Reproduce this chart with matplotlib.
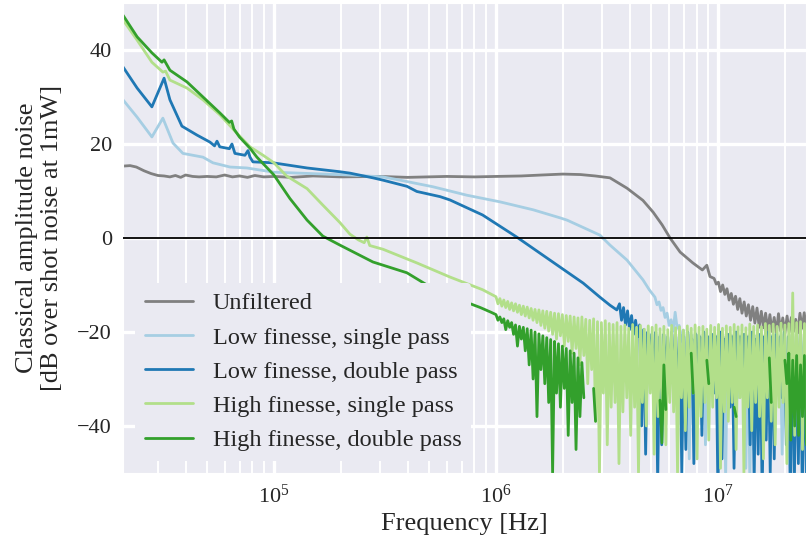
import numpy as np
import matplotlib
matplotlib.use("Agg")
import matplotlib.pyplot as plt
import seaborn as sns

labels = ["Unfiltered", "Low finesse, single pass", "Low finesse, double pass",
          "High finesse, single pass", "High finesse, double pass"]
colors = ["#808080", "#a6cee3", "#1f78b4", "#b2df8a", "#33a02c"]

# --- Unfiltered ---
unf_freq = [2.09e4, 2.25e4, 2.4e4, 2.6e4, 2.8e4, 3.0e4, 3.2e4, 3.4e4, 3.6e4, 3.8e4,
            4.0e4, 4.3e4, 4.6e4, 5.0e4, 5.5e4, 6.0e4, 6.5e4, 7.0e4, 7.6e4, 8.2e4,
            9.0e4, 1.0e5, 1.2e5, 1.5e5, 2.0e5, 3.0e5, 4.0e5, 6.0e5, 8.0e5, 1.0e6,
            1.3e6, 1.6e6, 2.0e6, 2.4e6, 2.8e6, 3.26e6, 3.89e6, 4.59e6, 5.1e6, 5.6e6,
            6.08e6, 6.75e6, 7.7e6, 8.5e6, 8.9e6, 9.2e6]
unf_db = [15.3, 15.4, 15.1, 14.3, 13.7, 13.3, 13.2, 13.0, 13.3, 12.9,
          13.4, 13.1, 13.0, 13.1, 13.0, 13.4, 13.0, 13.2, 12.9, 13.3,
          13.0, 13.1, 12.9, 13.2, 13.0, 13.1, 12.9, 13.1, 13.0, 13.1,
          13.2, 13.4, 13.6, 13.5, 13.2, 12.8, 10.6, 8.0, 5.5, 2.8,
          0.0, -3.0, -5.3, -6.8, -5.8, -8.2]
unf_tail_span = (9.6e6, 2.5e7)
unf_tail_hi = [-8.6, -9.4, -10.0, -10.8, -11.8, -12.4, -12.9, -13.6, -14.2, -14.6, -14.9,
               -15.6, -16.0, -16.3, -16.9, -16.1, -17.0, -16.6, -16.9, -17.3, -16.0, -15.9]
unf_tail_lo = [-9.8, -11.4, -12.0, -13.2, -14.1, -15.2, -16.0, -16.6, -17.5, -18.1, -19.0,
               -19.1, -19.6, -19.9, -20.2, -19.8, -20.3, -20.0, -19.9, -20.2, -19.2, -19.6]

# --- Low finesse, single pass ---
lfs_freq = [2.09e4, 2.42e4, 2.82e4, 3.16e4, 3.51e4, 3.89e4, 4.79e4, 5.31e4, 6.34e4, 7.55e4,
            1.0e5, 2.2e5, 3.1e5, 3.7e5, 5.2e5, 7.4e5, 1.04e6, 1.47e6, 1.94e6, 2.09e6,
            2.73e6, 2.94e6, 3.26e6, 3.89e6, 4.59e6, 4.9e6]
lfs_db = [29.4, 25.7, 21.5, 25.5, 20.2, 18.0, 17.2, 16.0, 15.1, 14.9,
          14.0, 13.4, 13.0, 12.3, 10.9, 9.1, 7.7, 6.0, 4.3, 3.8,
          1.3, 0.6, -1.5, -4.7, -8.9, -11.0]
lfs_tail_span = (5.2e6, 2.5e7)
lfs_tail_hi = [-12.6, -13.6, -14.8, -16.0, -17.4, -15.8, -18.6, -19.6, -20.0, -20.6,
               -20.2, -21.0, -20.4, -21.2, -20.5, -20.9, -20.3, -21.1, -20.6, -20.8,
               -20.2, -21.0, -20.5, -21.3, -20.4, -20.9, -20.6, -21.2, -20.3, -20.8,
               -20.5, -21.0, -20.4, -21.1, -20.6, -20.9, -20.3, -21.0]
lfs_tail_lo = [-14.2, -15.4, -16.9, -18.6, -19.8, -19.2, -22.0, -28.0, -47.0, -25.0,
               -31.0, -27.0, -44.0, -30.0, -26.0, -33.0, -29.0, -51.0, -28.0, -30.0,
               -34.0, -27.0, -49.0, -52.0, -45.0, -29.0, -31.0, -27.0, -36.0, -30.0,
               -28.0, -46.0, -32.0, -27.0, -50.0, -30.0, -29.0, -33.0]

# --- Low finesse, double pass ---
lfd_freq = [2.09e4, 2.42e4, 2.82e4, 3.2e4, 3.4e4, 3.85e4, 4.5e4, 5.15e4, 5.4e4, 5.54e4,
            5.7e4, 6.3e4, 6.47e4, 6.67e4, 7.4e4, 7.64e4, 7.8e4, 8.04e4, 9.9e4, 1.41e5,
            1.98e5, 2.2e5, 2.79e5, 3.1e5, 3.97e5, 4.4e5, 5.6e5, 6.2e5, 8.7e5, 1.24e6,
            1.75e6, 2.47e6, 2.94e6, 3.26e6, 3.5e6]
lfd_db = [36.4, 31.9, 27.9, 34.0, 29.4, 23.8, 21.9, 20.4, 19.6, 20.6,
          19.4, 19.0, 20.0, 18.0, 17.6, 18.6, 17.2, 16.2, 16.0, 14.9,
          14.1, 13.8, 12.8, 12.3, 11.0, 9.9, 8.8, 8.1, 4.9, 0.2,
          -4.7, -9.6, -12.6, -14.3, -15.3]
lfd_tail_span = (3.6e6, 2.5e7)
lfd_tail_hi = [-14.0, -14.8, -15.5, -16.5, -17.5, -18.5, -19.5, -20.0, -20.5, -20.0,
               -21.0, -20.5, -21.0, -20.0, -21.0, -20.5, -21.0, -20.0, -21.5, -20.5,
               -21.0, -20.0, -21.0, -20.5, -21.0, -20.0, -21.5, -20.5, -21.0, -20.0,
               -21.0, -20.5, -21.0, -20.0, -21.5, -20.5, -21.0, -20.0, -21.0, -20.5,
               -21.0, -20.0, -21.0, -20.5, -21.0, -20.0, -21.0]
lfd_tail_lo = [-17.5, -18.5, -19.5, -20.5, -21.0, -40.0, -46.0, -27.0, -30.0, -52.0,
               -44.0, -29.0, -31.0, -28.0, -33.0, -50.0, -45.0, -30.0, -48.0, -29.0,
               -42.0, -31.0, -28.0, -33.0, -55.0, -47.0, -30.0, -36.0, -49.0, -29.0,
               -32.0, -30.0, -44.0, -52.0, -46.0, -55.0, -43.0, -50.0, -47.0, -31.0,
               -34.0, -44.0, -55.0, -52.0, -48.0, -55.0, -50.0]

# --- High finesse, single pass ---
hfs_freq = [2.09e4, 2.42e4, 2.82e4, 3.16e4, 3.25e4, 3.4e4, 4.06e4, 4.79e4, 5.71e4, 6.81e4,
            7.8e4, 9.0e4, 1.0e5, 1.14e5, 1.41e5, 1.66e5, 1.98e5, 2.2e5, 2.4e5, 2.55e5,
            2.62e5, 2.7e5, 3.1e5, 4.4e5, 6.2e5, 8.7e5]
hfs_db = [46.4, 42.1, 37.4, 35.3, 35.5, 33.6, 31.9, 29.4, 26.2, 22.3,
          19.4, 17.5, 16.0, 13.2, 10.5, 7.0, 3.3, 0.8, -0.4, -1.0,
          0.2, -1.6, -2.4, -5.3, -8.3, -11.0]
hfs_tail_span = (1.0e6, 2.5e7)
hfs_tail_hi = [-12.5, -12.9, -13.2, -13.5, -13.8, -14.0, -14.3, -14.5, -14.7, -15.0,
               -15.2, -15.3, -15.5, -15.6, -15.8, -16.0, -16.1, -16.3, -16.5, -16.6,
               -16.8, -17.0, -16.8, -17.3, -17.5, -17.2, -17.8, -18.0, -17.6, -18.2,
               -18.4, -18.0, -18.8, -18.5, -19.2, -18.4, -19.0, -18.6, -19.4, -18.7,
               -19.0, -18.5, -19.3, -18.8, -19.5, -18.6, -19.1, -18.9, -19.6, -18.7,
               -19.2, -18.5, -19.0, -18.8, -19.4, -18.6, -19.0, -18.4, -19.2, -18.7,
               -19.0, -18.4, -18.9, -18.5, -19.1, -18.3, -18.8, -18.5, -18.9, -18.2,
               -18.6, -18.3, -18.8, -18.1, -18.5, -18.2, -11.7, -18.0, -17.8, -18.2]
hfs_tail_lo = [-14.0, -14.5, -14.8, -15.2, -15.5, -15.8, -16.3, -16.6, -17.0, -17.5,
               -18.0, -18.6, -19.2, -19.8, -20.5, -21.5, -20.8, -23.0, -22.0, -24.5,
               -23.5, -27.0, -25.0, -31.0, -28.0, -39.0, -50.0, -33.0, -44.0, -36.0,
               -35.0, -48.0, -37.0, -34.0, -42.0, -36.0, -50.0, -35.0, -40.0, -33.0,
               -46.0, -38.0, -36.0, -44.0, -35.0, -37.0, -50.0, -34.0, -41.0, -36.0,
               -33.0, -47.0, -38.0, -35.0, -43.0, -36.0, -34.0, -49.0, -37.0, -39.0,
               -35.0, -45.0, -34.0, -50.0, -36.0, -41.0, -35.0, -38.0, -47.0, -34.0,
               -39.0, -44.0, -36.0, -35.0, -48.0, -37.0, -42.0, -36.0, -45.0, -38.0]

# --- High finesse, double pass ---
hfd_freq = [2.09e4, 2.42e4, 2.82e4, 3.13e4, 3.2e4, 3.4e4, 4.06e4, 4.79e4, 5.71e4, 6.3e4,
            6.45e4, 6.6e4, 6.99e4, 7.8e4, 8.38e4, 1.0e5, 1.18e5, 1.41e5, 1.66e5,
            1.98e5, 2.79e5, 3.97e5, 4.89e5, 7.48e5, 8.5e5, 9.5e5]
hfd_db = [47.4, 42.8, 39.4, 37.4, 37.9, 35.7, 33.2, 30.0, 26.6, 24.6,
          24.9, 23.2, 21.5, 19.1, 17.2, 13.4, 8.4, 3.8, 0.4,
          -1.5, -5.1, -7.4, -10.0, -13.8, -14.8, -15.8]
hfd_tail_span = (1.0e6, 2.5e7)
nan = np.nan
hfd_tail_hi = [-16.3, -16.8, -17.2, -17.6, -18.0, -18.5, -18.8, -19.0, -19.3, -19.6,
               -20.0, -20.4, -20.8, -21.2, -21.6, -22.0, -22.5, -23.0, -23.5, -24.0,
               -24.5, -25.5, -26.5, nan, nan, -32.0, nan, nan, nan, nan,
               nan, nan, nan, nan, nan, nan, nan, nan, nan, nan,
               nan, nan, -34.5, -27.0, nan, nan, nan, nan, nan, nan,
               -24.5, nan, nan, nan, -26.0, nan, nan, nan, nan, nan,
               nan, -36.0, nan, nan, nan, nan, nan, nan, nan, nan,
               -25.5, nan, nan, nan, -26.0, -24.5, -26.0, -25.0, -27.0, -25.0]
hfd_tail_lo = [-17.5, -18.0, -19.5, -19.0, -20.5, -23.0, -21.5, -24.0, -27.0, -30.0,
               -38.0, -28.0, -31.0, -35.0, -50.0, -33.0, -36.0, -32.0, -42.0, -35.0,
               -45.0, -38.0, -34.0, nan, nan, -39.0, nan, nan, nan, nan,
               nan, nan, nan, nan, nan, nan, nan, nan, nan, nan,
               nan, nan, -43.6, -36.5, nan, nan, nan, nan, nan, nan,
               -33.0, nan, nan, nan, -31.0, nan, nan, nan, nan, nan,
               nan, -38.0, nan, nan, nan, nan, nan, nan, nan, nan,
               -35.0, nan, nan, nan, -31.0, -43.0, -40.0, -42.0, -38.0, -44.0]


def build(freq, db, span, hi, lo):
    # noisy tail: alternate the upper and lower values
    f_tail = np.geomspace(span[0], span[1], 2 * len(hi))
    d_tail = np.column_stack([hi, lo]).ravel()
    return np.concatenate([freq, f_tail]), np.concatenate([db, d_tail])


curves = [
    build(unf_freq, unf_db, unf_tail_span, unf_tail_hi, unf_tail_lo),
    build(lfs_freq, lfs_db, lfs_tail_span, lfs_tail_hi, lfs_tail_lo),
    build(lfd_freq, lfd_db, lfd_tail_span, lfd_tail_hi, lfd_tail_lo),
    build(hfs_freq, hfs_db, hfs_tail_span, hfs_tail_hi, hfs_tail_lo),
    build(hfd_freq, hfd_db, hfd_tail_span, hfd_tail_hi, hfd_tail_lo),
]

sns.set_style("darkgrid")
plt.rcParams["font.family"] = ["Liberation Serif", "DejaVu Serif"]
plt.rcParams["mathtext.fontset"] = "custom"
plt.rcParams["mathtext.rm"] = "Liberation Serif"
plt.rcParams["mathtext.it"] = "Liberation Serif:italic"
plt.rcParams["path.simplify"] = False

fig = plt.figure(figsize=(8.06, 5.4), dpi=100)
ax = fig.add_axes([123 / 806, 67 / 540, 683 / 806, 470 / 540])

for (f, d), c, lab in zip(curves, colors, labels):
    ax.plot(f, d, color=c, lw=2, label=lab)

ax.axhline(0, color="black", lw=1.3, zorder=5)

ax.set_xscale("log")
ax.set_xlim(2.09e4, 2.49e7)
ax.set_ylim(-50, 50)
ax.set_yticks([-40, -20, 0, 20, 40])
ax.grid(True, which="major", color="white", lw=2.4)
ax.grid(True, which="minor", axis="x", color="white", lw=1.4)
ax.tick_params(which="both", length=0, labelsize=16, pad=8)

ax.set_xlabel("Frequency [Hz]", fontsize=19, labelpad=4)
ax.set_ylabel("Classical amplitude noise\n[dB over shot noise at 1mW]", fontsize=19,
              labelpad=10)

ax.legend(loc="lower left", fontsize=17.5, frameon=True, facecolor="#EAEAF2",
          edgecolor="none", framealpha=1)

fig.savefig("out.png", dpi=100)
